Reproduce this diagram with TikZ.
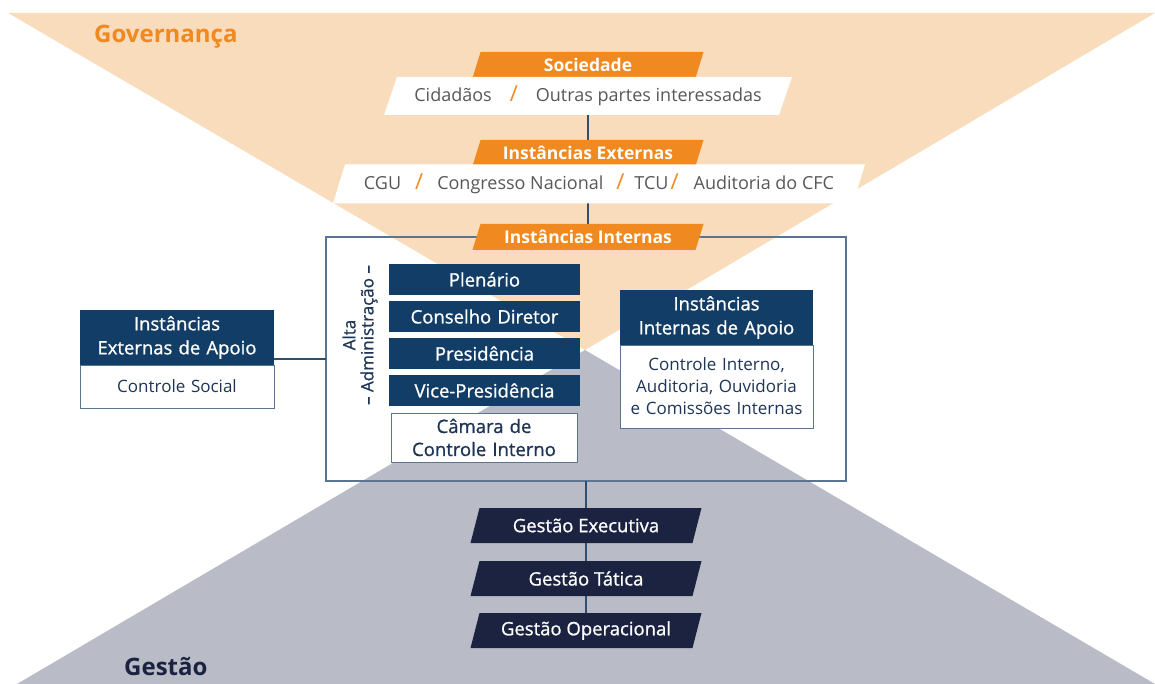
\documentclass[tikz,border=0pt]{standalone}
\usepackage{fontspec}
\setmainfont{Open Sans}
\newfontfamily\semib{Open Sans}[FakeBold=0.9]
\usetikzlibrary{calc}
\pgfdeclarelayer{back}
\pgfdeclarelayer{mid}
\pgfsetlayers{back,mid,main}
\definecolor{gorange}{HTML}{F0891F}
\definecolor{lorange}{HTML}{F9DCBC}
\definecolor{lgray}{HTML}{B9BCC6}
\definecolor{navy}{HTML}{123D66}
\definecolor{dnavy}{HTML}{1B2341}
\definecolor{tgray}{HTML}{585858}
\definecolor{tnavy}{HTML}{1F3556}
\definecolor{bordc}{HTML}{5B7491}
\definecolor{linec}{HTML}{2F4E70}
\newcommand\fs[2]{\fontsize{#1}{#2}\selectfont}
\newcommand\slantfill[3]{%
  \begin{pgfonlayer}{mid}
  \fill[#2] ([xshift=#3]#1.north west) -- ([xshift=#3]#1.north east) -- ([xshift=-#3]#1.south east) -- ([xshift=-#3]#1.south west) -- cycle;
  \end{pgfonlayer}}
\tikzset{
  bx/.style={rectangle, inner sep=0pt, outer sep=0pt, align=center},
  otag/.style={bx, minimum width=223pt, minimum height=26pt, text=white, font=\fs{17.5}{20}\bfseries},
  wlist/.style={bx, text=tgray, font=\fs{18}{20}},
  hdr/.style={bx, fill=navy, text=white, font=\semib\fs{18.5}{24}, text width=#1},
  body/.style={bx, fill=white, draw=bordc, line width=1pt, text=tnavy, font=\fs{17}{22}},
  gbox/.style={bx, minimum width=222pt, minimum height=35pt, text=white, font=\semib\fs{18.5}{20}},
  conn/.style={draw=linec, line width=1.1pt}
}
\begin{document}
\begin{tikzpicture}[x=1pt,y=-1pt]
\useasboundingbox (0,0) rectangle (1155,684);
% background triangles
\begin{pgfonlayer}{back}
\fill[lorange] (8,13) -- (1155,13) -- (585,350) -- cycle;
\fill[lgray] (17,684) -- (1155,684) -- (585,350) -- cycle;
\end{pgfonlayer}

\node[anchor=west, text=gorange, font=\fs{24}{26}\bfseries, inner sep=0pt] (gov) at (94,37) {Governança};
\node[anchor=west, text=dnavy, font=\fs{24}{26}\bfseries, inner sep=0pt] (ges) at (124,667) {Gestão};

% top chain
\node[otag] (soc) at (588,65) {Sociedade};
\slantfill{soc}{gorange}{4}
\node[wlist, minimum width=395pt, minimum height=38pt] (cid) at (588,96)
  {Cidadãos\hspace{18pt}{\color{gorange}\fs{22}{22}/}\hspace{18pt}Outras partes interessadas};
\slantfill{cid}{white}{6.5}
\node[otag] (ext) at (588,153) {Instâncias Externas};
\slantfill{ext}{gorange}{4}
\node[wlist, minimum width=520pt, minimum height=39pt] (exl) at (599,184)
  {CGU\hspace{14pt}{\color{gorange}\fs{22}{22}/}\hspace{14pt}Congresso Nacional\hspace{13pt}{\color{gorange}\fs{22}{22}/}\hspace{10pt}TCU\hspace{2pt}{\color{gorange}\fs{22}{22}/}\hspace{15pt}Auditoria do CFC};
\slantfill{exl}{white}{6}

% internal box
\node[bx, minimum width=520pt, minimum height=244pt] (ibox) at (586,359) {};
\begin{pgfonlayer}{back}
\draw[draw=bordc, line width=1.3pt] (ibox.north west) rectangle (ibox.south east);
\end{pgfonlayer}
\node[otag] (int) at (588,237) {Instâncias Internas};
\slantfill{int}{gorange}{4}

% center stack
\node[hdr=191pt, minimum height=31pt] (ple) at (484.5,279.5) {Plenário};
\node[hdr=191pt, minimum height=31pt] (con) at (484.5,316.5) {Conselho Diretor};
\node[hdr=191pt, minimum height=31pt] (pre) at (484.5,353.5) {Presidência};
\node[hdr=191pt, minimum height=31pt] (vic) at (484.5,390.5) {Vice-Presidência};
\node[body, text width=186pt, minimum height=49pt, font=\semib\fs{18.5}{23}, text=tnavy] (cam) at (484,437.5) {Câmara de\\Controle Interno};
\node[bx, rotate=90, text=tnavy, font=\semib\fs{17}{18}] (alta) at (360,335) {Alta\\– Administração –};

% left box
\node[hdr=194pt, minimum height=55pt] (lh) at (177,337.5) {Instâncias\\Externas de Apoio};
\node[body, text width=194pt, minimum height=43pt, anchor=north] (lb) at (lh.south) {Controle Social};
\begin{pgfonlayer}{back}
\draw[conn] (ibox.west -| lb.east) -- (ibox.west);
\end{pgfonlayer}

% right box
\node[hdr=193pt, minimum height=55pt] (rh) at (716.5,317.5) {Instâncias\\Internas de Apoio};
\node[body, text width=193pt, minimum height=83pt, anchor=north] (rb) at (rh.south) {Controle Interno,\\Auditoria, Ouvidoria\\e Comissões Internas};

% gestao
\node[gbox] (gex) at (586,525.5) {Gestão Executiva};
\slantfill{gex}{dnavy}{4.5}
\node[gbox] (gta) at (586,578.5) {Gestão Tática};
\slantfill{gta}{dnavy}{4.5}
\node[gbox] (gop) at (586,630.5) {Gestão Operacional};
\slantfill{gop}{dnavy}{4.5}

% connectors
\begin{pgfonlayer}{back}
\draw[conn] (cid.south -| ext.north) -- (ext.north);
\draw[conn] (exl.south -| int.north) -- (int.north);
\draw[conn] (ibox.south -| gex.north) -- (gop.south);
\end{pgfonlayer}
\end{tikzpicture}
\end{document}
